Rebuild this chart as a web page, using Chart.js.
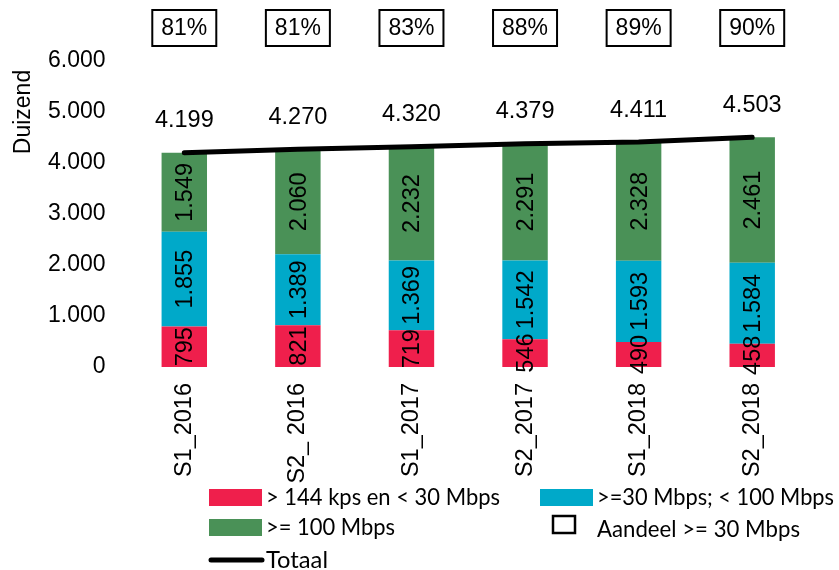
<!DOCTYPE html>
<html><head><meta charset="utf-8">
<script src="https://cdn.jsdelivr.net/npm/chart.js@4"></script>
<style>html,body{margin:0;padding:0;background:#fff}#wrap{width:839px;height:570px;position:relative}</style>
</head><body><div id="wrap"><canvas id="c"></canvas></div>
<script>
const categories = ['S1_2016', 'S2_ 2016', 'S1_2017', 'S2_2017', 'S1_2018', 'S2_2018'];
const lowSpeed = [795, 821, 719, 546, 490, 458];
const midSpeed = [1855, 1389, 1369, 1542, 1593, 1584];
const highSpeed = [1549, 2060, 2232, 2291, 2328, 2461];
const totals = [4199, 4270, 4320, 4379, 4411, 4503];
const shareAbove30 = [81, 81, 83, 88, 89, 90];
const yTickValues = [0, 1000, 2000, 3000, 4000, 5000, 6000];

const RED = '#EF1F4C', CYAN = '#00A9C9', GREEN = '#4A9157';
const FONT = '"Liberation Sans", Arial, sans-serif';
const LFONT = 'Lato, "Open Sans", sans-serif';
const fmt = v => String(v).replace(/\B(?=(\d{3})+(?!\d))/g, '.');

function fitText(ctx, text, x, y, width) {
  const w = ctx.measureText(text).width;
  ctx.save();
  ctx.translate(x, y);
  ctx.scale(width / w, 1);
  ctx.fillText(text, 0, 0);
  ctx.restore();
}

const overlay = {
  id: 'overlay',
  afterDatasetsDraw(chart) {
    const ctx = chart.ctx;
    ctx.save();
    ctx.fillStyle = '#000';
    ctx.textAlign = 'center';
    ctx.textBaseline = 'middle';
    // segment labels
    [0, 1, 2].forEach(di => {
      const meta = chart.getDatasetMeta(di);
      const data = chart.data.datasets[di].data;
      meta.data.forEach((el, i) => {
        const cy = (el.y + el.base) / 2;
        ctx.save();
        ctx.translate(el.x + 1.5, cy);
        ctx.rotate(-Math.PI / 2);
        ctx.font = '23.5px ' + FONT;
        ctx.fillText(fmt(data[i]), 0, 0);
        ctx.restore();
      });
    });
    // totals labels
    ctx.font = '23.5px ' + FONT;
    const lm = chart.getDatasetMeta(3);
    lm.data.forEach((p, i) => ctx.fillText(fmt(totals[i]), p.x, p.y - 32));
    // share boxes
    const bm = chart.getDatasetMeta(0);
    ctx.font = '23px ' + FONT;
    bm.data.forEach((el, i) => {
      ctx.lineWidth = 2;
      ctx.strokeStyle = '#000';
      ctx.strokeRect(el.x - 32, 10, 64, 36);
      ctx.fillText(shareAbove30[i] + '%', el.x, 29);
    });
    // y title
    ctx.save();
    ctx.translate(24, 112);
    ctx.rotate(-Math.PI / 2);
    ctx.font = '23px ' + FONT;
    ctx.fillText('Duizend', 0, 0);
    ctx.restore();
    // legend
    ctx.textAlign = 'left';
    ctx.font = '23px ' + LFONT;
    ctx.fillStyle = RED; ctx.fillRect(209, 489, 53, 17);
    ctx.fillStyle = CYAN; ctx.fillRect(540, 489, 53, 17);
    ctx.fillStyle = GREEN; ctx.fillRect(209, 519, 53, 17);
    ctx.strokeStyle = '#000'; ctx.lineWidth = 2.5;
    ctx.strokeRect(553, 516, 22, 17);
    ctx.lineWidth = 5; ctx.lineCap = 'round';
    ctx.beginPath(); ctx.moveTo(211, 560); ctx.lineTo(262, 560); ctx.stroke();
    ctx.fillStyle = '#000';
    fitText(ctx, '> 144 kps en < 30 Mbps', 266, 498, 234);
    fitText(ctx, '>=30 Mbps; < 100 Mbps', 597, 498, 237);
    fitText(ctx, '>= 100 Mbps', 266, 528, 129);
    fitText(ctx, 'Aandeel >= 30 Mbps', 597, 530, 203);
    fitText(ctx, 'Totaal', 266, 561, 62);
    ctx.restore();
  }
};

new Chart(document.getElementById('c'), {
  data: {
    labels: categories,
    datasets: [
      { type: 'bar', label: '> 144 kps en < 30 Mbps', data: lowSpeed, backgroundColor: RED, stack: 'bars', order: 1 },
      { type: 'bar', label: '>=30 Mbps; < 100 Mbps', data: midSpeed, backgroundColor: CYAN, stack: 'bars', order: 1 },
      { type: 'bar', label: '>= 100 Mbps', data: highSpeed, backgroundColor: GREEN, stack: 'bars', order: 1 },
      { type: 'line', label: 'Totaal', data: totals, borderColor: '#000', borderWidth: 5, pointRadius: 0, tension: 0, stack: 'total', order: 0, borderCapStyle: 'round' }
    ]
  },
  options: {
    responsive: true,
    maintainAspectRatio: false,
    animation: false,
    layout: { padding: { top: 61, right: 30, left: 0, bottom: 0 } },
    datasets: { bar: { barPercentage: 0.4, categoryPercentage: 1.0 } },
    plugins: { legend: { display: false }, tooltip: { enabled: false } },
    scales: {
      x: {
        stacked: true,
        grid: { display: false, drawTicks: false },
        border: { display: false },
        ticks: { color: '#000', font: { family: FONT, size: 23.5 }, minRotation: 90, maxRotation: 90, padding: 16 },
        afterFit: s => { s.height = 203; }
      },
      y: {
        stacked: true,
        min: 0, max: 6000,
        grid: { display: false, drawTicks: false },
        border: { display: false },
        afterBuildTicks: s => { s.ticks = yTickValues.map(v => ({ value: v })); },
        ticks: { color: '#000', font: { family: FONT, size: 23 }, padding: 22, callback: v => fmt(v) },
        afterFit: s => { s.width = 127.5; }
      }
    }
  },
  plugins: [overlay]
});
</script>
</body></html>
